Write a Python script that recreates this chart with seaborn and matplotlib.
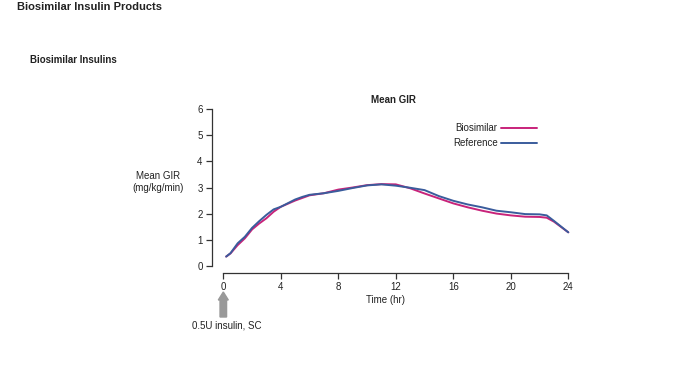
import pandas as pd
import matplotlib.pyplot as plt
import seaborn as sns

# valores (GIR médio, mg/kg/min)
horas = [0.2, 0.5, 1, 1.5, 2, 2.5, 3, 3.5, 4, 4.5, 5, 5.5, 6, 7, 8, 9, 10, 11, 12, 13, 14,
         15, 16, 17, 18, 19, 20, 21, 22, 22.5, 23, 24]
gir_biossimilar = [0.35, 0.47, 0.79, 1.05, 1.39, 1.62, 1.82, 2.07, 2.26, 2.38, 2.50, 2.60,
                   2.70, 2.78, 2.92, 3.00, 3.09, 3.13, 3.12, 2.97, 2.77, 2.58, 2.39, 2.24,
                   2.11, 2.00, 1.93, 1.88, 1.87, 1.84, 1.69, 1.28]
gir_referencia = [0.35, 0.48, 0.86, 1.11, 1.45, 1.71, 1.95, 2.16, 2.26, 2.40, 2.54, 2.64,
                  2.72, 2.78, 2.87, 2.98, 3.08, 3.12, 3.07, 2.99, 2.90, 2.67, 2.49, 2.35,
                  2.24, 2.11, 2.05, 1.98, 1.97, 1.93, 1.72, 1.28]
series = ['Biosimilar', 'Reference']
cores = {'Biosimilar': '#c8237a', 'Reference': '#3a5c9c'}
yticks = [0, 1, 2, 3, 4, 5, 6]
xticks = [0, 4, 8, 12, 16, 20, 24]

df = pd.DataFrame({
    'hora': horas * 2,
    'gir': gir_biossimilar + gir_referencia,
    'produto': ['Biosimilar'] * len(horas) + ['Reference'] * len(horas),
})

sns.set_style('ticks')
plt.rcParams['font.family'] = ['Liberation Sans', 'DejaVu Sans']

W, H = 700, 375
fig = plt.figure(figsize=(7, 3.75), dpi=100)

# eixo posicionado em pixels para imitar o layout original
x0_px, x24_px = 223.3, 568.3
y0_px, y6_px = 265.7, 109.3
px_hr = (x24_px - x0_px) / 24
px_un = (y0_px - y6_px) / 6
ax_left, ax_right = 211.7, 575.0
ax_bottom, ax_top = 272.7, 100.0
ax = fig.add_axes([ax_left / W, 1 - ax_bottom / H, (ax_right - ax_left) / W, (ax_bottom - ax_top) / H])
ax.set_xlim((ax_left - x0_px) / px_hr, (ax_right - x0_px) / px_hr)
ax.set_ylim(-(ax_bottom - y0_px) / px_un, 6 + (y6_px - ax_top) / px_un)

sns.lineplot(data=df, x='hora', y='gir', hue='produto', hue_order=series,
             palette=cores, linewidth=1.4, ax=ax, legend=False)

for s in ['top', 'right']:
    ax.spines[s].set_visible(False)
for s in ['left', 'bottom']:
    ax.spines[s].set_color('#333333')
    ax.spines[s].set_linewidth(0.9)
ax.spines['left'].set_bounds(0, 6)
ax.spines['bottom'].set_bounds(0, 24)
ax.set_xticks(xticks)
ax.set_yticks(yticks)
ax.tick_params(axis='both', direction='out', length=4.5, width=0.9, color='#333333',
               labelsize=7, labelcolor='#222222', pad=2, bottom=True, left=True)
ax.set_xlabel('')
ax.set_ylabel('')

# legenda no estilo R (texto à esquerda da linha)
handles = [plt.Line2D([], [], color=cores[s], lw=1.4) for s in series]
ax.legend(handles, series, loc='upper right', frameon=False, markerfirst=False,
          bbox_to_anchor=(537 / W, 1 - 123 / H), bbox_transform=fig.transFigure,
          borderaxespad=0, borderpad=0, handlelength=3.7, handletextpad=0.35,
          labelspacing=0.55, fontsize=7, labelcolor='#222222')

fig.text(17 / W, 1 - 7 / H, 'Biosimilar Insulin Products', fontsize=8, fontweight='bold',
         va='center', ha='left', color='#222222')
fig.text(30 / W, 1 - 60 / H, 'Biosimilar Insulins', fontsize=7, fontweight='bold',
         va='center', ha='left', color='#222222')
fig.text(393 / W, 1 - 100 / H, 'Mean GIR', fontsize=7, fontweight='bold',
         va='center', ha='center', color='#222222')
fig.text(158 / W, 1 - 182 / H, 'Mean GIR\n(mg/kg/min)', fontsize=7, ha='center', va='center',
         color='#222222', linespacing=1.3)
fig.text(385 / W, 1 - 300 / H, 'Time (hr)', fontsize=7, ha='center', va='center', color='#222222')
fig.text(192 / W, 1 - 325 / H, '0.5U insulin, SC', fontsize=7, ha='left', va='center', color='#222222')

# seta de administração
fig.add_artist(plt.matplotlib.patches.FancyArrow(
    x0_px / W, 1 - 317 / H, 0, 25 / H, width=3.5 / H, head_width=10 / W,
    head_length=8 / H, length_includes_head=True, color='#999999',
    transform=fig.transFigure))

fig.savefig('out.png', dpi=100)
